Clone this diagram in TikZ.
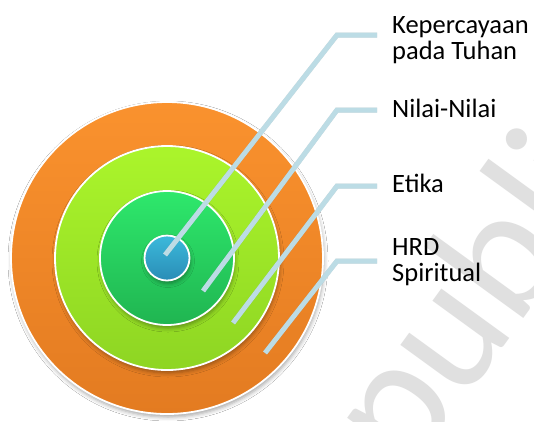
\documentclass[tikz,border=0pt]{standalone}
\usepackage{fontspec}
\setmainfont{Carlito}
\usetikzlibrary{shadows.blur}
\definecolor{orangeT}{HTML}{FA922E}
\definecolor{orangeB}{HTML}{E37B21}
\definecolor{limeT}{HTML}{ABF52B}
\definecolor{limeB}{HTML}{8ED523}
\definecolor{greenT}{HTML}{2EE86C}
\definecolor{greenB}{HTML}{20B551}
\definecolor{blueT}{HTML}{3BB9DB}
\definecolor{blueB}{HTML}{2A8DB6}
\definecolor{connc}{HTML}{BCDCE5}
\definecolor{wmc}{HTML}{E0E0E0}
\begin{document}
\begin{tikzpicture}[x=1pt,y=-1pt,
  ring/.style={circle, draw=white, line width=1.8pt, inner sep=0pt,
    blur shadow={shadow xshift=1pt, shadow yshift=-3pt, shadow blur radius=4pt, shadow opacity=35}},
  connector/.style={connc, line width=5pt, line join=miter},
  connshadow/.style={black, opacity=0.15, line width=5pt},
  lbl/.style={anchor=base west, inner sep=0pt, align=left, font=\fontsize{26.5}{26}\selectfont}]
\useasboundingbox (0,0) rectangle (534,421);
\fill[white] (0,0) rectangle (534,421);
\begin{scope}
\clip (0,0) rectangle (534,421);
\node[rotate=54, anchor=base west, text=wmc, inner sep=0pt, font=\fontsize{176}{176}\selectfont] (wmark) at (408,478) {publi};
\end{scope}
% circles
\node[ring, minimum size=312pt, top color=orangeT, bottom color=orangeB] (outer) at (167,258) {};
\node[ring, minimum size=224pt, top color=limeT, bottom color=limeB] (lime) at (167,258) {};
\node[ring, minimum size=134pt, top color=greenT, bottom color=greenB] (green) at (167,258) {};
\node[ring, minimum size=45pt, top color=blueT, bottom color=blueB] (blue) at (167,258) {};
% connector points
\coordinate (s1) at (165,255); \coordinate (k1) at (337,35);  \coordinate (e1) at (377,35);
\coordinate (s2) at (203,291); \coordinate (k2) at (337,110); \coordinate (e2) at (377,110);
\coordinate (s3) at (233,323); \coordinate (k3) at (337,186); \coordinate (e3) at (377,186);
\coordinate (s4) at (265,353); \coordinate (k4) at (337,261); \coordinate (e4) at (377,261);
\foreach \i in {1,2,3,4}{
  \draw[connshadow, shift={(1.2pt,-2.2pt)}] (s\i) -- (k\i) -- (e\i);
  \draw[connector] (s\i) -- (k\i) -- (e\i);
}
% labels
\node[lbl] (l1) at (392,59.3) {Kepercayaan\\pada Tuhan};
\node[lbl] (l2) at (392,117.3) {Nilai-Nilai};
\node[lbl] (l3) at (392,192.7) {Etika};
\node[lbl] (l4) at (392,281.7) {HRD\\Spiritual};
\end{tikzpicture}
\end{document}
